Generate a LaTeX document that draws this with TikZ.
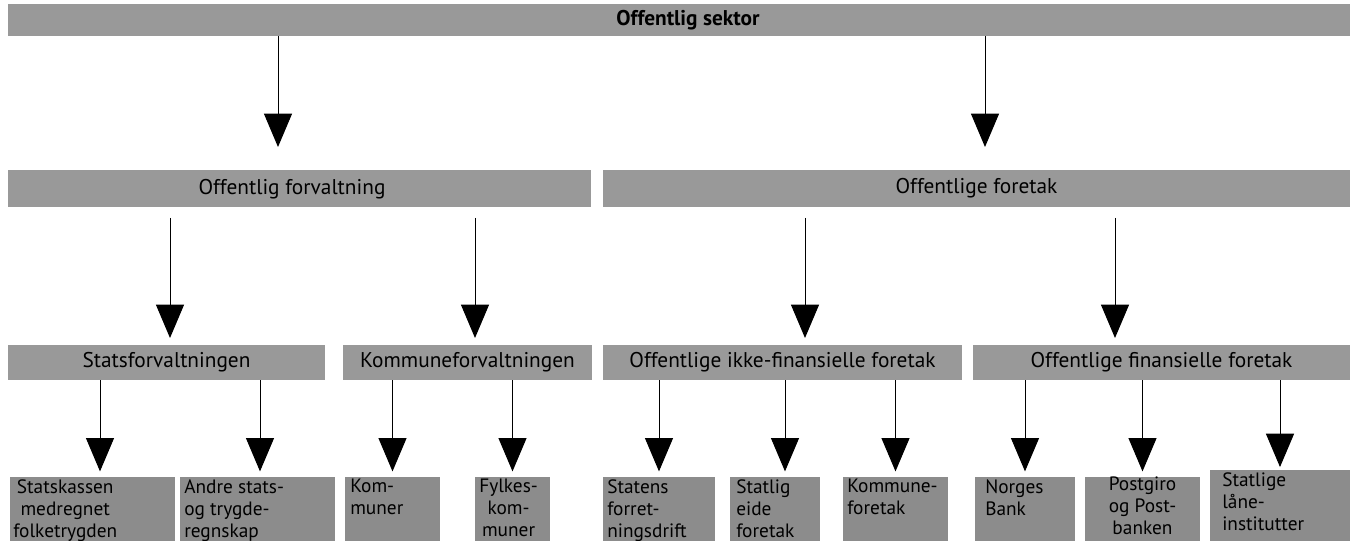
\documentclass[tikz,border=0pt]{standalone}
\usepackage{fontspec}
\setmainfont{PT Sans}
\usetikzlibrary{arrows.meta,fit}
\tikzset{
  bar/.style={fill=black!40, inner sep=0pt},
  bartext/.style={inner sep=0pt, font=\fontsize{16}{19}\selectfont},
  cell/.style={fill=black!45, inner sep=0pt},
  celltext/.style={anchor=north west, align=left, inner sep=0pt, font=\fontsize{14.5}{16.5}\selectfont},
  arr/.style={line width=0.75pt, -{Triangle[width=21pt,length=25pt]}},
}
\begin{document}
\begin{tikzpicture}[x=0.75pt,y=0.75pt,yscale=-1,xscale=1]
      \useasboundingbox (0,0) rectangle (1357,541);
      \node [bar, fit={(8,4) (1350,36)}] (sektor) {};
      \node [bar, fit={(8,170) (591,207)}] (forv) {};
      \node [bar, fit={(603,170) (1350,207)}] (foretak) {};
      \node [bar, fit={(8,345) (325,380)}] (statsf) {};
      \node [bar, fit={(343,345) (592,380)}] (kommf) {};
      \node [bar, fit={(603,345) (962,380)}] (ikkefin) {};
      \node [bar, fit={(973,345) (1350,380)}] (fin) {};
      \node [bartext, font=\fontsize{16}{19}\bfseries] (sektor-t) at (688,20) {Offentlig sektor};
      \node [bartext] (forv-t) at (292,189) {Offentlig forvaltning};
      \node [bartext] (foretak-t) at (foretak) {Offentlige foretak};
      \node [bartext] (statsf-t) at (statsf) {Statsforvaltningen};
      \node [bartext] (kommf-t) at (kommf) {Kommuneforvaltningen};
      \node [bartext] (ikkefin-t) at (ikkefin) {Offentlige ikke-finansielle foretak};
      \node [bartext] (fin-t) at (fin) {Offentlige finansielle foretak};
      \node [cell, fit={(10,477) (175,541)}] (skassen) {};
      \node [cell, fit={(180,477) (335,541)}] (andre) {};
      \node [cell, fit={(345,477) (440,541)}] (kom) {};
      \node [cell, fit={(475,477) (550,541)}] (fylkes) {};
      \node [cell, fit={(603,477) (715,541)}] (statens) {};
      \node [cell, fit={(730,477) (820,541)}] (statlig) {};
      \node [cell, fit={(843,477) (948,541)}] (kfor) {};
      \node [cell, fit={(975,477) (1075,541)}] (norges) {};
      \node [cell, fit={(1085,477) (1200,541)}] (postgiro) {};
      \node [cell, fit={(1210,470) (1350,541)}] (statlige) {};
      \node [celltext, align=center] (skassen-t) at (13,479) {Statskassen\\medregnet\\folketrygden};
      \node [celltext] (andre-t) at (184,479) {Andre stats-\\og trygde-\\regnskap};
      \node [celltext] (kom-t) at (350,479) {Kom-\\muner};
      \node [celltext, align=center] (fylkes-t) at (479,479) {Fylkes-\\kom-\\muner};
      \node [celltext] (statens-t) at (607,479) {Statens\\forret-\\ningsdrift};
      \node [celltext] (statlig-t) at (736,479) {Statlig\\eide\\foretak};
      \node [celltext] (kfor-t) at (847,479) {Kommune-\\foretak};
      \node [celltext] (norges-t) at (985,479) {Norges\\Bank};
      \node [celltext, align=center, anchor=north] (postgiro-t) at (postgiro.north) {Postgiro\\og Post-\\banken};
      \node [celltext] (statlige-t) at (1222,472) {Statlige\\låne-\\institutter};
      \coordinate (t1) at (278,147);
      \coordinate (t2) at (985,147);
      \coordinate (t3) at (170,338);
      \coordinate (t4) at (475,338);
      \coordinate (t5) at (805,338);
      \coordinate (t6) at (1115,338);
      \draw [arr] (t1 |- sektor.south) -- (t1);
      \draw [arr] (t2 |- sektor.south) -- (t2);
      \draw [arr, shorten <=8pt] (t3 |- forv.south) -- (t3);
      \draw [arr, shorten <=8pt] (t4 |- forv.south) -- (t4);
      \draw [arr, shorten <=8pt] (t5 |- foretak.south) -- (t5);
      \draw [arr, shorten <=8pt] (t6 |- foretak.south) -- (t6);
      \draw [arr, shorten >=4pt] (statsf.south -| 100,0) -- (skassen.north -| 100,0);
      \draw [arr, shorten >=4pt] (statsf.south -| 260,0) -- (andre.north -| 260,0);
      \draw [arr, shorten >=4pt] (kommf.south -| kom.north) -- (kom.north);
      \draw [arr, shorten >=4pt] (kommf.south -| fylkes.north) -- (fylkes.north);
      \draw [arr, shorten >=4pt] (ikkefin.south -| statens.north) -- (statens.north);
      \draw [arr, shorten >=4pt] (ikkefin.south -| 785,0) -- (statlig.north -| 785,0);
      \draw [arr, shorten >=4pt] (ikkefin.south -| kfor.north) -- (kfor.north);
      \draw [arr, shorten >=4pt] (fin.south -| norges.north) -- (norges.north);
      \draw [arr, shorten >=4pt] (fin.south -| postgiro.north) -- (postgiro.north);
      \draw [arr, shorten >=2pt] (fin.south -| statlige.north) -- (statlige.north);
\end{tikzpicture}
\end{document}
